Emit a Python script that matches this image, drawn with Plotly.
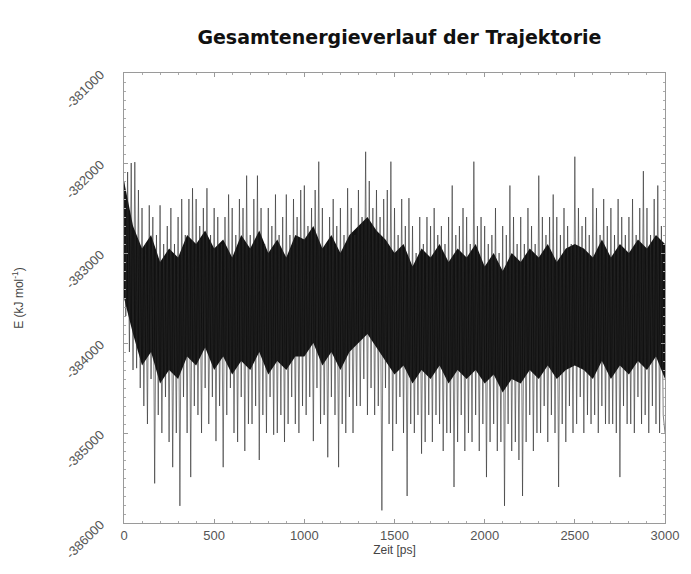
import plotly.graph_objects as go

# Energy trajectory (kJ/mol), one value every 10 ps
time_step_ps = 10
energy = [
    -382200, -383700, -382100, -384100, -382000, -384300, -381990, -384280, -382300, -384500,
    -382500, -384700, -382900, -384900, -382470, -384400, -382600, -385560, -382800, -384800,
    -382470, -385000, -382900, -384600, -382700, -385100, -382500, -385380, -382900, -385000,
    -382600, -385810, -382400, -384600, -382800, -385000, -382400, -385490, -382280, -384700,
    -382400, -384800, -382700, -385000, -382500, -384500, -382280, -384900, -382800, -384600,
    -382500, -385090, -382600, -384700, -382900, -385380, -382600, -384800, -382350, -384500,
    -382500, -385000, -382800, -385100, -382400, -384600, -382500, -385200, -382140, -384900,
    -382800, -384900, -382400, -384700, -382140, -385300, -382500, -384800, -382900, -385000,
    -382500, -384600, -382700, -385020, -382350, -385000, -382800, -384800, -382600, -385100,
    -382350, -384900, -382800, -384600, -382400, -384900, -382600, -385000, -382300, -384700,
    -382250, -384800, -382700, -384600, -382500, -385090, -382300, -384500, -381985, -384900,
    -382500, -384800, -382900, -385270, -382600, -384600, -382400, -384800, -382700, -385380,
    -382500, -384900, -382800, -385000, -382280, -384600, -382500, -385000, -382800, -384700,
    -382300, -384700, -382600, -384400, -381875, -384800, -382200, -384500, -382500, -384800,
    -382300, -384700, -382600, -385860, -382400, -384500, -382300, -384900, -381985, -385200,
    -382500, -384900, -382800, -384600, -382400, -385000, -382700, -385700, -382390, -384900,
    -382700, -385000, -383000, -384800, -382600, -385230, -382900, -385100, -382600, -384800,
    -382700, -385100, -382500, -384800, -382800, -384900, -382700, -385200, -382900, -385000,
    -382600, -385000, -382250, -385600, -382800, -385100, -382700, -384800, -382500, -385200,
    -382600, -385000, -382900, -385100, -381985, -384800, -382700, -385200, -382600, -384900,
    -382700, -385490, -382900, -385100, -382800, -384900, -382500, -385200, -383000, -385100,
    -382700, -385810, -382800, -384900, -382250, -385200, -382600, -385100, -382900, -385300,
    -382600, -385700, -382900, -385100, -382500, -384800, -382700, -385200, -382900, -385000,
    -382140, -385000, -382600, -384700, -382800, -385100, -382600, -384800, -382350, -385000,
    -382600, -385600, -382800, -384900, -382500, -385100, -382700, -384700, -382900, -385000,
    -381930, -384900, -382500, -384600, -382700, -385000, -382600, -384800, -382800, -384900,
    -382280, -384800, -382500, -385000, -382800, -384700, -382400, -384900, -382700, -384900,
    -382500, -384900, -382800, -385000, -382400, -385490, -382600, -384700, -382800, -384900,
    -382600, -384900, -382400, -385000, -382800, -384600, -382500, -384900, -382090, -384800,
    -382500, -385000, -382800, -384700, -382400, -384900, -382250, -385000, -382700, -384800,
    -385000,
]
time_ps = [i * time_step_ps for i in range(len(energy))]

# Dense (solid black) core of the fluctuation band, read every 50 ps
core_step_ps = 50
core_upper = [
    -382200, -382700, -382950, -382800, -383100, -382950, -383050, -382800, -382900, -382750,
    -382950, -382850, -383050, -382800, -382950, -382750, -383000, -382850, -383050, -382800,
    -382850, -382700, -382950, -382800, -383000, -382800, -382700, -382600, -382750, -382850,
    -383000, -382900, -383150, -382950, -383050, -382900, -383100, -382950, -383050, -382900,
    -383150, -383000, -383200, -383000, -383100, -382950, -383050, -382900, -383100, -382950,
    -382900, -382950, -383050, -382850, -383050, -382900, -383000, -382850, -382950, -382800,
    -382900,
]
core_lower = [
    -383500, -383900, -384250, -384100, -384450, -384300, -384400, -384150, -384250, -384050,
    -384300, -384150, -384350, -384200, -384300, -384100, -384350, -384200, -384300, -384150,
    -384150, -384000, -384250, -384100, -384300, -384100, -384000, -383900, -384050, -384200,
    -384350, -384250, -384450, -384300, -384400, -384250, -384450, -384300, -384400, -384300,
    -384450, -384350, -384550, -384400, -384450, -384300, -384400, -384250, -384400, -384300,
    -384250, -384300, -384400, -384200, -384400, -384250, -384350, -384200, -384300, -384150,
    -384400,
]
core_t = [i * core_step_ps for i in range(len(core_upper))]

x_tickvals = [0, 500, 1000, 1500, 2000, 2500, 3000]
x_ticktext = ["0", "500", "1000", "1500", "2000", "2500", "3000"]
y_tickvals = [-381000, -382000, -383000, -384000, -385000, -386000]
y_ticktext = ["-381000", "-382000", "-383000", "-384000", "-385000", "-386000"]

FONT = "Liberation Sans, Arial, sans-serif"

fig = go.Figure()
fig.add_trace(go.Scatter(
    x=core_t, y=core_upper, mode="lines", line=dict(color="rgba(0,0,0,0)", width=0),
    showlegend=False, hoverinfo="skip",
))
fig.add_trace(go.Scatter(
    x=core_t, y=core_lower, mode="lines", line=dict(color="rgba(0,0,0,0)", width=0),
    fill="tonexty", fillcolor="#111111", showlegend=False, hoverinfo="skip",
))
fig.add_trace(go.Scatter(
    x=time_ps, y=energy, mode="lines",
    line=dict(color="#2a2a2a", width=0.6),
    showlegend=False, hoverinfo="skip",
))

axis_common = dict(
    showgrid=False, zeroline=False,
    showline=True, linecolor="#9a9a9a", linewidth=1, mirror="allticks",
    ticks="inside", ticklen=4, tickcolor="#9a9a9a",
    tickfont=dict(family=FONT, size=13, color="#555555"),
)

fig.update_layout(
    width=691, height=574,
    margin=dict(l=124, r=19, t=73, b=44),
    paper_bgcolor="white", plot_bgcolor="white",
    title=dict(
        text="<b>Gesamtenergieverlauf der Trajektorie</b>",
        x=0.578, xanchor="center", y=0.935, yanchor="middle",
        font=dict(family="DejaVu Sans, sans-serif", size=19, color="#111111"),
    ),
    xaxis=dict(
        range=[0, 3000], tickvals=x_tickvals, ticktext=x_ticktext,
        minor=dict(ticks="inside", ticklen=2, dtick=100, tickcolor="#aaaaaa"),
        title=dict(text="Zeit [ps]", standoff=2,
                   font=dict(family=FONT, size=12, color="#444444")),
        **axis_common,
    ),
    yaxis=dict(
        range=[-386000, -381000], tickvals=y_tickvals, ticktext=y_ticktext, tickangle=-45,
        ticklabelstandoff=20,
        minor=dict(ticks="inside", ticklen=2, dtick=100, tickcolor="#aaaaaa"),
        title=dict(text="E (kJ mol<sup>-1</sup>)", standoff=36,
                   font=dict(family=FONT, size=12, color="#444444")),
        **axis_common,
    ),
)

fig.write_html("out.html")
